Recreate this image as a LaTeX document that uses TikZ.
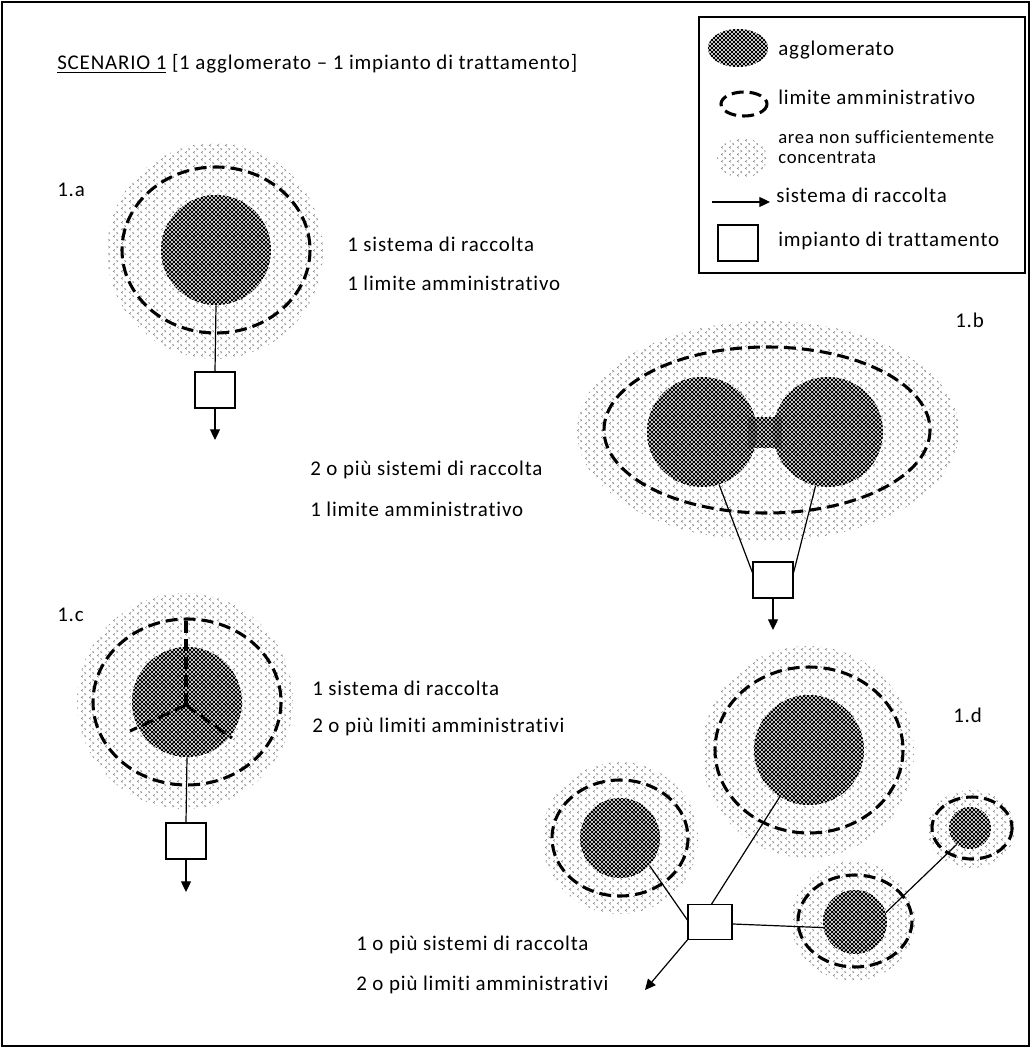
\documentclass[tikz,border=0pt]{standalone}
\usepackage{fontspec}
\setmainfont{Carlito}[LetterSpace=4,Ligatures=NoCommon]
\usetikzlibrary{patterns.meta,arrows.meta}

\tikzdeclarepattern{
  name=aggl,
  type=uncolored,
  bottom left={(-.5pt,-.5pt)},
  top right={(3.5pt,3.5pt)},
  tile size={(3pt,3pt)},
  code={
    \draw[line width=.6pt] (-.5pt,-.5pt) -- (3.5pt,3.5pt);
    \draw[line width=.6pt] (-.5pt,3.5pt) -- (3.5pt,-.5pt);
  }
}
\tikzdeclarepattern{
  name=sparse,
  type=uncolored,
  bottom left={(0pt,0pt)},
  top right={(6pt,5.4pt)},
  tile size={(6pt,5.4pt)},
  code={
    \draw[line width=.45pt] (2.3pt,.5pt) -- (1.1pt,1.3pt) -- (2.3pt,2.1pt);
    \draw[line width=.45pt] (3.7pt,3.2pt) -- (4.9pt,4pt) -- (3.7pt,4.8pt);
  }
}

\tikzset{
  lbl/.style={anchor=west, inner sep=0pt, font=\fontsize{15.7}{19}\selectfont},
  small/.style={anchor=west, inner sep=0pt, font=\fontsize{14}{17}\selectfont},
  diffuse/.style={pattern=sparse, pattern color=black!50},
  agglo/.style={circle, inner sep=0pt, pattern=aggl, pattern color=black},
  limit/.style={line width=2.3pt, dash pattern=on 9pt off 4.5pt},
  plant/.style={draw, line width=.9pt, fill=white, inner sep=0pt, minimum width=30pt, minimum height=27pt},
  pipe/.style={line width=.9pt},
  outflow/.style={pipe, -{Triangle[length=8pt,width=7.5pt]}}
}

\begin{document}
\begin{tikzpicture}[x=0.75pt,y=-0.75pt]
  \useasboundingbox (0,0) rectangle (1031,1048);
  \draw[line width=1.1pt] (2,2) rectangle (1029,1046);

  % titolo
  \node[lbl] (title) at (57,64) {\underline{SCENARIO 1} [1 agglomerato -- 1 impianto di trattamento]};

  % legenda
  \draw[line width=1.1pt] (699,17) rectangle (1025,273);
  \fill[pattern=aggl, pattern color=black] (738,48) ellipse (30 and 19);
  \draw[limit] (744,104) ellipse (23 and 12);
  \fill[diffuse] (742,158) ellipse (25 and 20);
  \coordinate (lgA) at (712,202);
  \coordinate (lgB) at (770,202);
  \draw[outflow] (lgA) -- (lgB);
  \node[plant] (lgP) at (738,243) {};
  \node[lbl] (lg1) at (778,50) {agglomerato};
  \node[lbl] (lg2) at (778,97) {limite amministrativo};
  \node[small] (lg3) at (778,137) {area non sufficientemente};
  \node[small] (lg4) at (778,158) {concentrata};
  \node[lbl] (lg5) at (776,195) {sistema di raccolta};
  \node[lbl] (lg6) at (778,241) {impianto di trattamento};

  % 1.a
  \node[lbl] (la) at (57,190) {1.a};
  \fill[diffuse] (215,251) circle (108);
  \draw[limit] (216,250) ellipse (94 and 83);
  \node[agglo, minimum size=82.5pt] (a1) at (216,250) {};
  \node[plant] (pa) at (215,390) {};
  \coordinate (atip) at (215,440);
  \draw[pipe] (a1.south) -- (pa.north);
  \draw[outflow] (pa.south) -- (atip);
  \node[lbl] (ta1) at (347,244) {1 sistema di raccolta};
  \node[lbl] (ta2) at (347,283) {1 limite amministrativo};

  % 1.b
  \node[lbl] (lb) at (955,320) {1.b};
  \fill[diffuse] (768,431) ellipse (191 and 110);
  \draw[limit] (767,430) ellipse (163 and 83);
  \node[agglo, minimum size=82.5pt] (b1) at (702,432) {};
  \node[agglo, minimum size=82.5pt] (b2) at (828,432) {};
  \fill[pattern=aggl, pattern color=black] (748,417) rectangle (782,447);
  \node[plant] (pb) at (773,580) {};
  \coordinate (btip) at (773,630);
  \draw[pipe] (b1.-72) -- (pb.160);
  \draw[pipe] (b2.-103) -- (pb.20);
  \draw[outflow] (pb.south) -- (btip);
  \node[lbl] (tb1) at (310,470) {2 o più sistemi di raccolta};
  \node[lbl] (tb2) at (310,509) {1 limite amministrativo};

  % 1.c
  \node[lbl] (lc) at (57,615) {1.c};
  \fill[diffuse] (185,701) circle (108);
  \draw[limit] (187,702) ellipse (94 and 83);
  \node[agglo, minimum size=82.5pt] (c1) at (187,702) {};
  \coordinate (cj) at (186,705);
  \coordinate (ct) at (186,620);
  \coordinate (cl) at (130,731);
  \coordinate (cr) at (232,738);
  \draw[limit] (cj) -- (ct);
  \draw[limit] (cj) -- (cl);
  \draw[limit] (cj) -- (cr);
  \node[plant] (pc) at (186,841) {};
  \coordinate (ctip) at (186,892);
  \draw[pipe] (c1.south) -- (pc.north);
  \draw[outflow] (pc.south) -- (ctip);
  \node[lbl] (tc1) at (312,688) {1 sistema di raccolta};
  \node[lbl] (tc2) at (312,727) {2 o più limiti amministrativi};

  % 1.d
  \node[lbl] (ld) at (953,715) {1.d};
  \fill[diffuse] (808,752) circle (106);
  \fill[diffuse] (620,838) ellipse (78 and 76);
  \fill[diffuse] (853,921) ellipse (62 and 60);
  \fill[diffuse] (971,829) ellipse (44 and 39);
  \draw[limit] (809,750) ellipse (94 and 83);
  \draw[limit] (620,838) ellipse (68 and 58);
  \draw[limit] (855,921) ellipse (57 and 46);
  \draw[limit] (972,828) ellipse (40 and 31);
  \node[agglo, minimum size=82.5pt] (d1) at (809,750) {};
  \node[agglo, minimum size=60pt] (d2) at (620,838) {};
  \node[agglo, minimum size=48pt] (d3) at (855,922) {};
  \node[agglo, minimum size=31.5pt] (d4) at (970,828) {};
  \node[plant, minimum width=33pt, minimum height=26pt] (pd) at (710,922) {};
  \coordinate (dtip) at (645,990);
  \draw[pipe] (d1.-122) -- (pd.85);
  \draw[pipe] (d2.-43) -- (pd.175);
  \draw[pipe] (pd.-5) -- (d3.-170);
  \draw[pipe] (d3.17) -- (d4.-129);
  \draw[outflow] (pd.south west) -- (dtip);
  \node[lbl] (td1) at (356,945) {1 o più sistemi di raccolta};
  \node[lbl] (td2) at (356,985) {2 o più limiti amministrativi};
\end{tikzpicture}
\end{document}
